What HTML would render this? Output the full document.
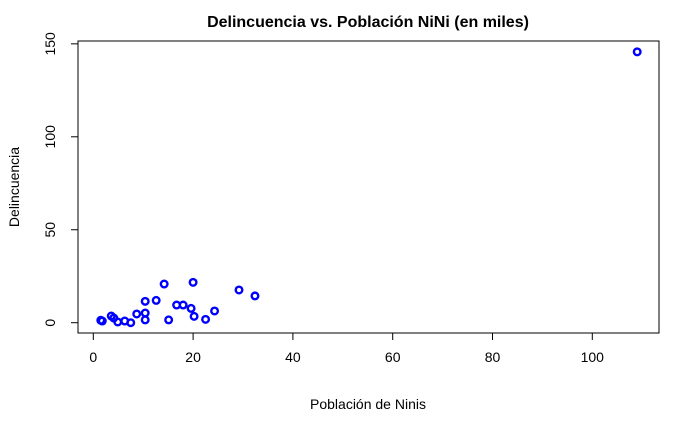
<!DOCTYPE html>
<html><head><meta charset="utf-8"><style>
body{margin:0;background:#fff;}
svg text{font-family:"Liberation Sans",Arial,sans-serif;}
</style></head><body>
<svg id="chart" width="700" height="432" viewBox="0 0 700 432" xmlns="http://www.w3.org/2000/svg">
<rect width="700" height="432" fill="#fff"/>
<text x="368" y="27" font-size="16" font-weight="bold" text-anchor="middle">Delincuencia vs. Población NiNi (en miles)</text>
<rect x="78" y="41" width="581" height="292" fill="none" stroke="#000" stroke-width="1"/>
<g id="xaxis"></g>
<g id="yaxis"></g>
<g id="points"></g>
<text x="368" y="409" font-size="14" text-anchor="middle">Población de Ninis</text>
<text transform="translate(19,187) rotate(-90)" font-size="14" text-anchor="middle">Delincuencia</text>
</svg>
<script>
const xTicks=[0,20,40,60,80,100];
const yTicks=[0,50,100,150];
const xVals=[1.5,1.8,3.6,4.1,4.9,6.3,7.5,8.7,10.4,10.4,10.4,12.6,14.2,15.1,16.7,18.0,19.6,20.0,20.2,22.5,24.3,29.2,32.4,109.0];
const yVals=[1.3,0.9,3.6,2.5,0.4,0.9,0.0,4.7,5.2,1.5,11.5,12.0,20.8,1.5,9.5,9.5,7.7,21.7,3.4,1.8,6.3,17.6,14.4,145.7];
const NS="http://www.w3.org/2000/svg";
const sx=v=>93.3+v*4.99;
const sy=v=>322.7-v*1.859;
function mk(tag,attrs,parent){const e=document.createElementNS(NS,tag);for(const k in attrs)e.setAttribute(k,attrs[k]);parent.appendChild(e);return e;}
const xa=document.getElementById('xaxis'),ya=document.getElementById('yaxis'),pts=document.getElementById('points');
mk('line',{x1:sx(xTicks[0]),x2:sx(xTicks[xTicks.length-1]),y1:333,y2:333,stroke:'#000'},xa);
xTicks.forEach(t=>{
  const l=mk('line',{x1:sx(t),x2:sx(t),y1:333,y2:340,stroke:'#000'},xa);
  
  
  const tx=mk('text',{x:sx(t),y:362,'font-size':14,'text-anchor':'middle'},xa);
  tx.textContent=t;
  
  
});
mk('line',{x1:78,x2:78,y1:sy(yTicks[0]),y2:sy(yTicks[yTicks.length-1]),stroke:'#000'},ya);
yTicks.forEach(t=>{
  const l=mk('line',{x1:71,x2:78,y1:sy(t),y2:sy(t),stroke:'#000'},ya);
  
  
  const tx=mk('text',{transform:`translate(55,${sy(t)}) rotate(-90)`,'font-size':14,'text-anchor':'middle'},ya);
  tx.textContent=t;
  
  
});
xVals.forEach((v,i)=>{
  const c=mk('circle',{cx:sx(v),cy:sy(yVals[i]),r:3.3,fill:'none',stroke:'#0000ff','stroke-width':2.4},pts);
  
  
});
</script>
</body></html>
